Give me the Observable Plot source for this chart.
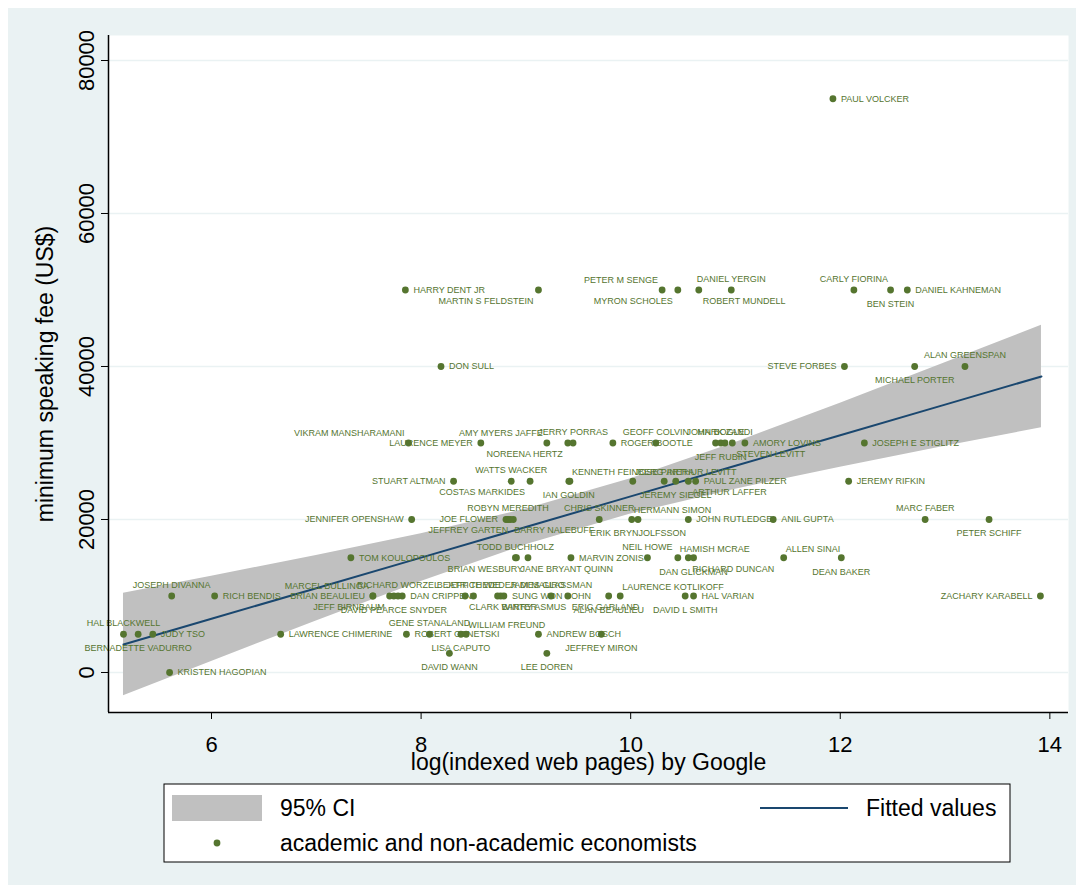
<!DOCTYPE html>
<html><head><meta charset="utf-8">
<script src="https://cdn.jsdelivr.net/npm/d3@7"></script>
<script src="https://cdn.jsdelivr.net/npm/@observablehq/plot@0.6"></script>
<style>body{margin:0;background:#fff}#chart svg{display:block}</style>
</head><body><div id="chart"></div>
<script>
// ---- data ----
const names = ["PAUL VOLCKER","HARRY DENT JR","MARTIN S FELDSTEIN","PETER M SENGE","MYRON SCHOLES","ROBERT MUNDELL","DANIEL YERGIN","CARLY FIORINA","BEN STEIN","DANIEL KAHNEMAN",
"DON SULL","STEVE FORBES","MICHAEL PORTER","ALAN GREENSPAN",
"VIKRAM MANSHARAMANI","LAURENCE MEYER","AMY MYERS JAFFE","NOREENA HERTZ","JERRY PORRAS","ROGER BOOTLE","GEOFF COLVIN","JOHN BOGLE","JEFF RUBIN","MARK ZANDI","STEVEN LEVITT","AMORY LOVINS","JOSEPH E STIGLITZ",
"STUART ALTMAN","WATTS WACKER","COSTAS MARKIDES","IAN GOLDIN","KENNETH FEINBERG","JOSE PINERA","ARTHUR LEVITT","JEREMY SIEGEL","ARTHUR LAFFER","PAUL ZANE PILZER","JEREMY RIFKIN",
"JENNIFER OPENSHAW","JOE FLOWER","ROBYN MEREDITH","BARRY NALEBUFF","JEFFREY GARTEN","CHRIS SKINNER","HERMANN SIMON","ERIK BRYNJOLFSSON","JOHN RUTLEDGE","ANIL GUPTA","MARC FABER","PETER SCHIFF",
"TOM KOULOPOULOS","TODD BUCHHOLZ","JANE BRYANT QUINN","BRIAN WESBURY","MARVIN ZONIS","NEIL HOWE","HAMISH MCRAE","RICHARD DUNCAN","DAN GLICKMAN","ALLEN SINAI","DEAN BAKER",
"JOSEPH DIVANNA","RICH BENDIS","MARCEL BULLINGA","BRIAN BEAULIEU","JEFF BIRNBAUM","DAVID PEARCE SNYDER","RICHARD WORZEL","DAN CRIPPEN","CLARK WINTER","JEFF THEDE","BEATRICE WEDER DI MAURO","BARRY ASMUS","SUNG WON SOHN","JAMES GLASSMAN","ERIC GARLAND","ALAN BEAULIEU","LAURENCE KOTLIKOFF","DAVID L SMITH","HAL VARIAN","ZACHARY KARABELL",
"HAL BLACKWELL","BERNADETTE VADURRO","JUDY TSO","LAWRENCE CHIMERINE","ROBERT GENETSKI","GENE STANALAND","LISA CAPUTO","WILLIAM FREUND","ANDREW BOSCH","JEFFREY MIRON",
"DAVID WANN","LEE DOREN","KRISTEN HAGOPIAN"];
const logPages = [11.93,7.85,9.12,10.30,10.45,10.65,10.96,12.13,12.48,12.64,
8.19,12.04,12.71,13.19,
7.88,8.57,9.20,9.40,9.45,9.83,10.24,10.81,10.86,10.90,10.97,11.09,12.23,
8.31,8.86,9.04,9.41,9.42,10.02,10.32,10.43,10.55,10.62,12.08,
7.91,8.81,8.83,8.85,8.88,9.70,10.01,10.07,10.55,11.36,12.81,13.42,
7.33,8.90,8.91,9.02,9.43,10.16,10.45,10.55,10.60,11.46,12.01,
5.62,6.03,7.54,7.54,7.70,7.74,7.78,7.82,8.42,8.50,8.76,8.73,8.79,9.24,9.40,9.79,9.90,10.52,10.60,13.91,
5.16,5.30,5.44,6.66,7.86,8.08,8.38,8.43,9.12,9.72,
8.27,9.20,5.60];
const fees = [75000,50000,50000,50000,50000,50000,50000,50000,50000,50000,
40000,40000,40000,40000,
30000,30000,30000,30000,30000,30000,30000,30000,30000,30000,30000,30000,30000,
25000,25000,25000,25000,25000,25000,25000,25000,25000,25000,25000,
20000,20000,20000,20000,20000,20000,20000,20000,20000,20000,20000,20000,
15000,15000,15000,15000,15000,15000,15000,15000,15000,15000,15000,
10000,10000,10000,10000,10000,10000,10000,10000,10000,10000,10000,10000,10000,10000,10000,10000,10000,10000,10000,10000,
5000,5000,5000,5000,5000,5000,5000,5000,5000,5000,
2500,2500,0];
// fitted line and 95% CI band
const ciX   = [5.16, 6, 7, 8, 9, 10, 11, 12, 13, 13.92];
const ciLow = [-3040, 1450, 6740, 11890, 16690, 20720, 23970, 26840, 29560, 32000];
const ciHigh= [10360, 12590, 15300, 18150, 21360, 25320, 30070, 35200, 40490, 45400];
const fitted= [3660, 7020, 11020, 15020, 19020, 23020, 27020, 31020, 35020, 38700];
const xTicks = [6, 8, 10, 12, 14];
const yTicks = [0, 20000, 40000, 60000, 80000];
const xTitle = "log(indexed web pages) by Google";
const yTitle = "minimum speaking fee (US$)";
const legendLabels = ["95% CI", "Fitted values", "academic and non-academic economists"];

// ---- style: marker-label clock positions (Stata mlabvposition) ----
const labelClock = [3,3,7,11,7,5,12,12,6,3,
3,9,6,12,
11,9,11,7,12,3,12,12,6,12,5,3,3,
9,12,7,6,1,1,1,6,5,3,3,
9,9,12,5,7,12,1,6,3,3,12,6,
3,12,5,7,3,12,1,5,6,1,6,
12,3,11,9,7,6,12,3,5,12,12,5,3,12,5,6,1,6,3,9,
12,6,3,3,3,12,6,1,3,6,
6,6,3];

const green = "#55752f", navy = "#1a476f", ciGray = "#c0c0c0", bg = "#eaf2f3";
const font = "'Liberation Sans',Arial,sans-serif";

const economists = names.map((n, i) => ({name: n, x: logPages[i], y: fees[i], clock: labelClock[i]}));
const band = ciX.map((x, i) => ({x, lo: ciLow[i], hi: ciHigh[i], fit: fitted[i]}));

const clockStyle = {
  3: {dx: 8, dy: 0, anchor: "start"},
  9: {dx: -8, dy: 0, anchor: "end"},
  12: {dx: 0, dy: -11, anchor: "middle"},
  6: {dx: 0, dy: 14, anchor: "middle"},
  1: {dx: 2, dy: -9, anchor: "start"},
  11: {dx: -4, dy: -10, anchor: "end"},
  5: {dx: 4, dy: 11, anchor: "start"},
  7: {dx: -5, dy: 11, anchor: "end"}
};

const xDomain = [5.017, 14.178], yDomain = [-5229, 83268];

const labelMarks = Object.entries(clockStyle).map(([c, s]) =>
  Plot.text(economists.filter(d => d.clock === +c), {
    x: "x", y: "y", text: "name", dx: s.dx, dy: s.dy, textAnchor: s.anchor,
    fill: green, fontSize: 9, fontFamily: font
  }));

const chart = Plot.plot({
  width: 1084, height: 893,
  marginLeft: 108, marginRight: 16, marginTop: 35, marginBottom: 181,
  style: {background: "transparent", fontFamily: font},
  x: {domain: xDomain},
  y: {domain: yDomain},
  marks: [
    Plot.frame({fill: "white", stroke: "none"}),
    Plot.gridY(yTicks, {stroke: bg, strokeOpacity: 1, strokeWidth: 1.5}),
    Plot.areaY(band, {x: "x", y1: "lo", y2: "hi", fill: ciGray, fillOpacity: 1}),
    Plot.line(band, {x: "x", y: "fit", stroke: navy, strokeWidth: 2}),
    Plot.dot(economists, {x: "x", y: "y", r: 3.4, fill: green, stroke: "none"}),
    ...labelMarks,
    Plot.ruleX([xDomain[0]], {stroke: "#000", strokeWidth: 1.5}),
    Plot.ruleY([yDomain[0]], {stroke: "#000", strokeWidth: 1.5}),
    Plot.axisX(xTicks, {tickSize: 7, tickPadding: 17, fontSize: 22, fontFamily: font, label: null, stroke: "#000", fill: "#000", tickFormat: d => String(d)}),
    Plot.axisY(yTicks, {tickSize: 7, tickPadding: 8, tickRotate: -90, fontSize: 22, fontFamily: font, label: null, stroke: "#000", fill: "#000", tickFormat: d => String(d)}),
    Plot.text([xTitle], {frameAnchor: "bottom", dy: 57, fontSize: 23, fontFamily: font, fill: "#000"}),
    Plot.text([yTitle], {frameAnchor: "left", textAnchor: "middle", rotate: -90, dx: -63, fontSize: 23, fontFamily: font, fill: "#000"})
  ]
});

const svg = d3.select(chart);
svg.style("background", "#fff");
svg.insert("rect", ":first-child").attr("x", 8).attr("y", 8).attr("width", 1068).attr("height", 877).attr("fill", bg);

// legend
const lg = svg.append("g").attr("text-anchor", "start");
lg.append("rect").attr("x", 164).attr("y", 784).attr("width", 846).attr("height", 78).attr("fill", "#fff").attr("stroke", "#000").attr("stroke-width", 1);
lg.append("rect").attr("x", 172).attr("y", 795).attr("width", 90).attr("height", 26).attr("fill", ciGray);
lg.append("line").attr("x1", 760).attr("x2", 848).attr("y1", 808).attr("y2", 808).attr("stroke", navy).attr("stroke-width", 2);
lg.append("circle").attr("cx", 217).attr("cy", 843).attr("r", 3.4).attr("fill", green);
const lt = [[280, 808, legendLabels[0]], [866, 808, legendLabels[1]], [280, 843, legendLabels[2]]];
lt.forEach(([x, y, t]) => lg.append("text").attr("x", x).attr("y", y).attr("dy", "0.35em")
  .attr("text-anchor", "start").attr("font-family", font).attr("font-size", 23).attr("fill", "#000").text(t));

document.getElementById("chart").appendChild(chart);
</script>
</body></html>
